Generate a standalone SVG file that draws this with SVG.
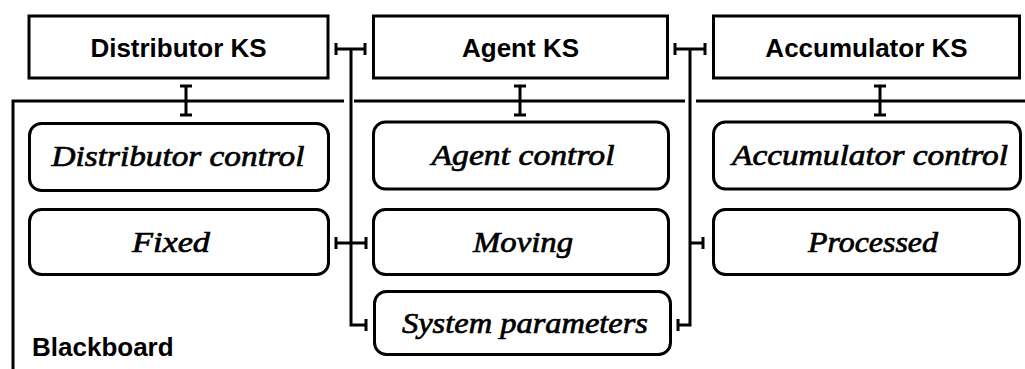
<svg xmlns="http://www.w3.org/2000/svg" width="1025" height="369" viewBox="0 0 1025 369">
<style>
.ks{fill:#fff;stroke:#000;stroke-width:3}
.rb{fill:#fff;stroke:#000;stroke-width:3}
.ln{fill:none;stroke:#000;stroke-width:3}
.st{font-family:"Liberation Sans",Arial,sans-serif;font-weight:bold;font-size:26px;fill:#000;text-anchor:middle}
.it{font-family:"Liberation Serif","Times New Roman",serif;font-style:italic;font-weight:normal;font-size:30px;fill:#000;stroke:#000;stroke-width:0.7;text-anchor:middle}
.lb{font-family:"Liberation Sans",Arial,sans-serif;font-weight:bold;font-size:26px;fill:#000}
</style>
<rect width="1025" height="369" fill="#fff"/>
<g id="blackboard">
<path class="ln" d="M13,369 V101 H344 M354,101 H685 M696,101 H1025"/>
<text class="lb" x="32" y="356">Blackboard</text>
</g>
<g id="connectors">
<path class="ln" d="M180,86 H192 M186,86 V115 M180,115 H192"/>
<path class="ln" d="M514,86 H526 M520,86 V115 M514,115 H526"/>
<path class="ln" d="M874,86 H886 M880,86 V115 M874,115 H886"/>
<path class="ln" d="M336,49 H365 M336,43 V55 M365,43 V55 M351,49 V325 H366 M366,319 V331 M336,243 H366 M336,237 V249 M366,237 V249"/>
<path class="ln" d="M675,49 H705 M675,43 V55 M705,43 V55 M690,49 V325 H678 M678,319 V331 M690,243 H703 M703,237 V249"/>
</g>
<g id="distributor-ks">
<rect class="ks" x="29" y="16" width="299" height="62"/>
<text class="st" x="178.5" y="56.5">Distributor KS</text>
</g>
<g id="agent-ks">
<rect class="ks" x="373.5" y="16" width="294" height="62"/>
<text class="st" x="520.5" y="56.5">Agent KS</text>
</g>
<g id="accumulator-ks">
<rect class="ks" x="713.5" y="16" width="306" height="62"/>
<text class="st" x="866.5" y="56.5">Accumulator KS</text>
</g>
<g id="distributor-control">
<rect class="rb" x="29.5" y="123.5" width="299" height="67" rx="12"/>
<text class="it" x="178" y="166" textLength="253" lengthAdjust="spacingAndGlyphs">Distributor control</text>
</g>
<g id="agent-control">
<rect class="rb" x="373.5" y="122" width="295" height="67" rx="12"/>
<text class="it" x="523" y="165" textLength="183" lengthAdjust="spacingAndGlyphs">Agent control</text>
</g>
<g id="accumulator-control">
<rect class="rb" x="713.5" y="122" width="307" height="67" rx="12"/>
<text class="it" x="870" y="165" textLength="276" lengthAdjust="spacingAndGlyphs">Accumulator control</text>
</g>
<g id="fixed">
<rect class="rb" x="29.5" y="209.5" width="299" height="65" rx="12"/>
<text class="it" x="171" y="252" textLength="78" lengthAdjust="spacingAndGlyphs">Fixed</text>
</g>
<g id="moving">
<rect class="rb" x="373.5" y="209.5" width="295" height="65" rx="12"/>
<text class="it" x="523" y="252" textLength="100" lengthAdjust="spacingAndGlyphs">Moving</text>
</g>
<g id="processed">
<rect class="rb" x="713.5" y="209.5" width="306" height="65" rx="12"/>
<text class="it" x="873" y="252" textLength="130" lengthAdjust="spacingAndGlyphs">Processed</text>
</g>
<g id="system-parameters">
<rect class="rb" x="374.5" y="291.5" width="296" height="63" rx="12"/>
<text class="it" x="525" y="333" textLength="246" lengthAdjust="spacingAndGlyphs">System parameters</text>
</g>
</svg>
